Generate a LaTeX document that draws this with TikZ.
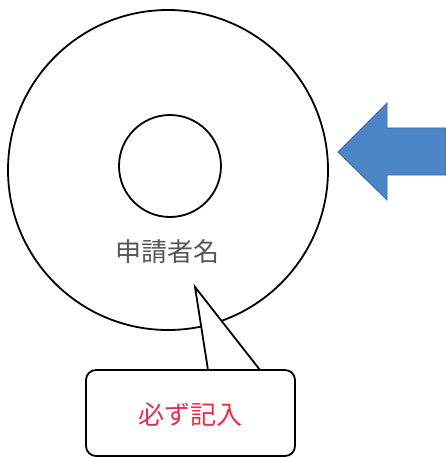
\documentclass[tikz,border=0pt]{standalone}
\usepackage{fontspec}
\newfontfamily\jp{Noto Sans CJK JP}
\definecolor{arrowblue}{RGB}{76,134,200}
\definecolor{arrowedge}{RGB}{60,105,160}
\definecolor{namegray}{RGB}{85,85,85}
\definecolor{notered}{RGB}{232,45,75}
\tikzset{
  ring/.style={circle, draw=black, line width=1.8pt, inner sep=0pt},
  lbl/.style={font=\jp\fontsize{26}{26}\selectfont, inner sep=0pt},
  callbox/.style={draw=black, line width=1.8pt, fill=white, rounded corners=10pt, inner sep=0pt},
}
\begin{document}
\begin{tikzpicture}[x=1pt,y=-1pt]
\useasboundingbox[fill=white] (0,0) rectangle (445,457);
\node[ring, minimum size=320pt] (outer) at (168,170) {};
\node[ring, minimum size=102pt] (inner) at (170,166) {};
\node[lbl, text=namegray] (name) at (167,252) {申請者名};
% arrow
\draw[fill=arrowblue, draw=arrowedge, line width=0.8pt, line join=miter]
  (338,152) -- (387,103) -- (387,128) -- (446,128) -- (446,175) -- (387,175) -- (387,200) -- cycle;
% callout
\node[callbox, minimum width=209pt, minimum height=86pt] (call) at (190.5,413) {};
\coordinate (tip) at (195,287);
\coordinate (bl) at (208,370);
\coordinate (br) at (260,370);
\fill[white] (bl) -- (tip) -- (br) -- ([yshift=2pt]br) -- ([yshift=2pt]bl) -- cycle;
\draw[line width=1.8pt, line join=miter] (bl) -- (tip) -- (br);
\node[lbl, text=notered] (note) at (190,415) {必ず記入};
\end{tikzpicture}
\end{document}
